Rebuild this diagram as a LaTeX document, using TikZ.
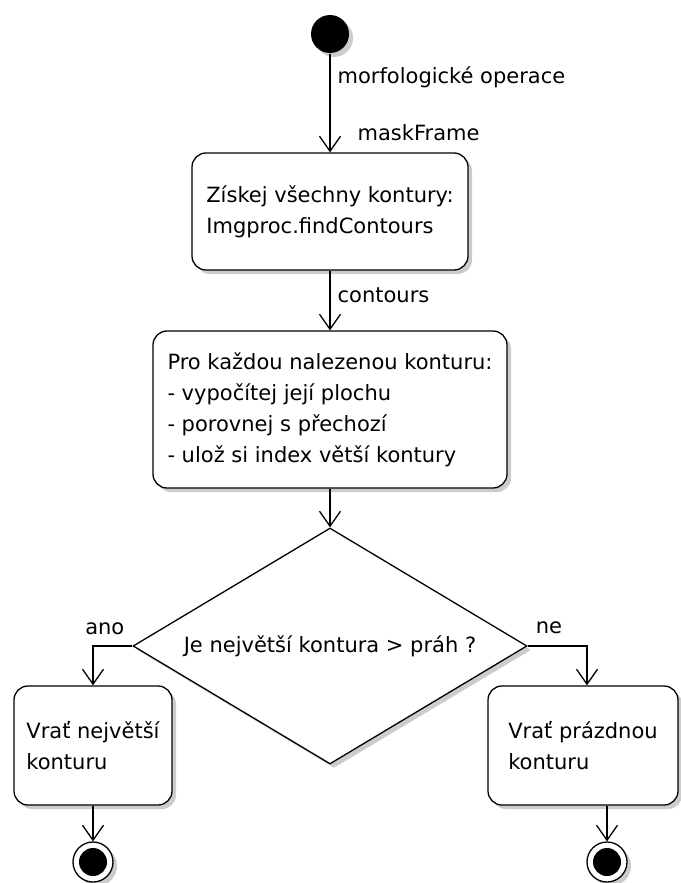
\documentclass[tikz,border=0pt]{standalone}
\usepackage{fontspec}
\setmainfont{DejaVu Sans}
\usepackage{tikz}
\usetikzlibrary{arrows.meta,shapes.geometric,shadows}

\begin{document}
\begin{tikzpicture}[x=1pt, y=-1pt, line width=1.3pt,
    font=\fontsize{21}{31}\selectfont,
    shadowed/.style={drop shadow={shadow xshift=4pt, shadow yshift=-4pt, fill=black!20, opacity=1}},
    action/.style={draw, rounded corners=14pt, fill=white, align=left, inner sep=0pt, shadowed},
    decision/.style={draw, diamond, aspect=1.67, fill=white, inner sep=0pt, minimum width=394pt, minimum height=236pt, shadowed},
    startdot/.style={circle, fill=black, minimum size=38pt, inner sep=0pt, shadowed},
    enddot/.style={circle, draw, fill=white, minimum size=40pt, inner sep=0pt, shadowed,
        path picture={\fill[black] (path picture bounding box.center) circle (14pt);}},
    flow/.style={-{Straight Barb[length=15pt, width=21pt]}},
    lbl/.style={inner sep=0pt}]
\useasboundingbox (0,0) rectangle (680,883);

% start point
\node[startdot] (start) at (330,34) {};

% actions
\node[action, minimum width=276pt, minimum height=117pt] (find) at (330,211.5)
    {Získej všechny kontury:\\Imgproc.findContours};
\node[action, minimum width=354pt, minimum height=157pt] (loop) at (330,409.5)
    {Pro každou nalezenou konturu:\\- vypočítej její plochu\\- porovnej s přechozí\\- ulož si index větší kontury};

% decision
\node[decision] (test) at (330,646) {Je největší kontura > práh ?};

% the two results
\node[action, minimum width=158pt, minimum height=119pt] (found) at (93,745.5) {Vrať největší\\konturu};
\node[action, minimum width=190pt, minimum height=119pt] (empty) at (583,745.5) {Vrať prázdnou\\konturu};

% end points
\node[enddot] (endA) at (93,862) {};
\node[enddot] (endB) at (607,862) {};

% flows
\draw[flow] (start) -- node[lbl, pos=0.24, anchor=west, xshift=7pt] {morfologické operace}
    node[lbl, pos=0.8, anchor=west, xshift=27pt] {maskFrame} (find);
\draw[flow] (find) -- node[lbl, pos=0.41, anchor=west, xshift=7pt] {contours} (loop);
\draw[flow] (loop) -- (test);
\draw[flow] (test.west) -| node[lbl, pos=0.35, anchor=south, yshift=11pt] {ano} (found.north);
\draw[flow] (test.east) -| node[lbl, pos=0.18, anchor=south, yshift=12pt] {ne} ([xshift=4pt]empty.north);
\draw[flow] (found) -- (endA);
\draw[flow] (endB |- empty.south) -- (endB);
\end{tikzpicture}
\end{document}
